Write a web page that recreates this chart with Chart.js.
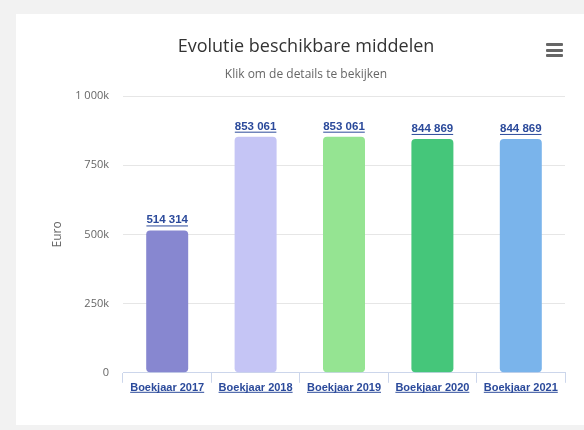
<!DOCTYPE html>
<html>
<head>
<meta charset="utf-8">
<script src="https://cdn.jsdelivr.net/npm/chart.js@4.4.0/dist/chart.umd.min.js"></script>
<style>
  html, body { margin: 0; padding: 0; background: #f2f2f2; }
  body { width: 584px; height: 430px; position: relative; overflow: hidden; }
  #card { position: absolute; left: 16px; top: 14px; width: 568px; height: 411px; background: #fff; }
  #menu { position: absolute; right: 21px; top: 29px; width: 17px; }
  #menu span { display: block; height: 3px; background: #666; margin-bottom: 2.5px; border-radius: 1px; }
</style>
</head>
<body>
<div id="card">
  <canvas id="chart" width="568" height="411"></canvas>
  <div id="menu"><span></span><span></span><span></span></div>
</div>
<script>
const categories = ["Boekjaar 2017", "Boekjaar 2018", "Boekjaar 2019", "Boekjaar 2020", "Boekjaar 2021"];
const values = [514314, 853061, 853061, 844869, 844869];
const barColors = ["#8787d0", "#c5c5f5", "#95e492", "#45c67a", "#7ab4eb"];
const yTicks = [0, 250000, 500000, 750000, 1000000];

const linkColor = "#2b4a9b";
const labelFont = "bold 11px 'Liberation Sans', Arial, sans-serif";

function spaced(n) {
  return String(n).replace(/\B(?=(\d{3})+(?!\d))/g, " ");
}

// values above the bars, underlined like links
const valueLabels = {
  id: "valueLabels",
  afterDatasetsDraw(chart) {
    const ctx = chart.ctx;
    const meta = chart.getDatasetMeta(0);
    ctx.save();
    ctx.font = "bold 11.5px 'Liberation Sans', Arial, sans-serif";
    ctx.fillStyle = linkColor;
    ctx.strokeStyle = linkColor;
    ctx.lineWidth = 1;
    ctx.textAlign = "center";
    ctx.textBaseline = "alphabetic";
    meta.data.forEach((bar, i) => {
      const txt = spaced(values[i]);
      const y = bar.y - 7;
      ctx.fillText(txt, bar.x, y);
      const w = ctx.measureText(txt).width;
      ctx.beginPath();
      ctx.moveTo(bar.x - w / 2, y + 2.5);
      ctx.lineTo(bar.x + w / 2, y + 2.5);
      ctx.stroke();
    });
    ctx.restore();
  },
  afterDraw(chart) {
    // underline the category labels
    const ctx = chart.ctx;
    const xs = chart.scales.x;
    ctx.save();
    ctx.font = labelFont;
    ctx.strokeStyle = linkColor;
    ctx.lineWidth = 1;
    categories.forEach((c, i) => {
      const x = xs.getPixelForTick(i);
      const w = ctx.measureText(c).width;
      const y = xs.top + 19.5;
      ctx.beginPath();
      ctx.moveTo(x - w / 2, y);
      ctx.lineTo(x + w / 2, y);
      ctx.stroke();
    });
    ctx.restore();
  }
};

new Chart(document.getElementById("chart"), {
  type: "bar",
  data: {
    labels: categories,
    datasets: [{
      data: values,
      backgroundColor: barColors,
      borderWidth: 0,
      borderRadius: 4,
      borderSkipped: false,
      barPercentage: 0.475,
      categoryPercentage: 1
    }]
  },
  options: {
    responsive: false,
    animation: false,
    layout: { padding: { left: 31, right: 19, top: 0, bottom: 31 } },
    plugins: {
      legend: { display: false },
      tooltip: { enabled: false },
      title: {
        display: true,
        text: "Evolutie beschikbare middelen",
        color: "#333",
        font: { family: "'Open Sans', sans-serif", size: 18, weight: "normal" },
        padding: { top: 22, bottom: 10 }
      },
      subtitle: {
        display: true,
        text: "Klik om de details te bekijken",
        color: "#666",
        font: { family: "'Open Sans', sans-serif", size: 12 },
        padding: { top: 0, bottom: 14 }
      }
    },
    scales: {
      x: {
        offset: true,
        grid: { offset: true, drawOnChartArea: false, color: "#ccd6eb", tickLength: 10, tickColor: "#ccd6eb" },
        border: { color: "#ccd6eb" },
        ticks: { color: linkColor, font: { family: "'Liberation Sans', Arial, sans-serif", size: 11, weight: "bold" }, padding: -1, maxRotation: 0 }
      },
      y: {
        min: 0,
        max: 1000000,
        afterFit(scale) { scale.width = 76; },
        afterBuildTicks(scale) { scale.ticks = yTicks.map(v => ({ value: v })); },
        grid: { color: "#e6e6e6", drawTicks: false },
        border: { display: false },
        ticks: {
          color: "#666",
          padding: 14,
          font: { family: "'Open Sans', sans-serif", size: 11 },
          callback: v => v === 0 ? "0" : spaced(v / 1000) + "k"
        },
        title: {
          display: true,
          text: "Euro",
          color: "#666",
          font: { family: "'Open Sans', sans-serif", size: 12 },
          padding: { top: 3, bottom: 0 }
        }
      }
    }
  },
  plugins: [valueLabels]
});
</script>
</body>
</html>
